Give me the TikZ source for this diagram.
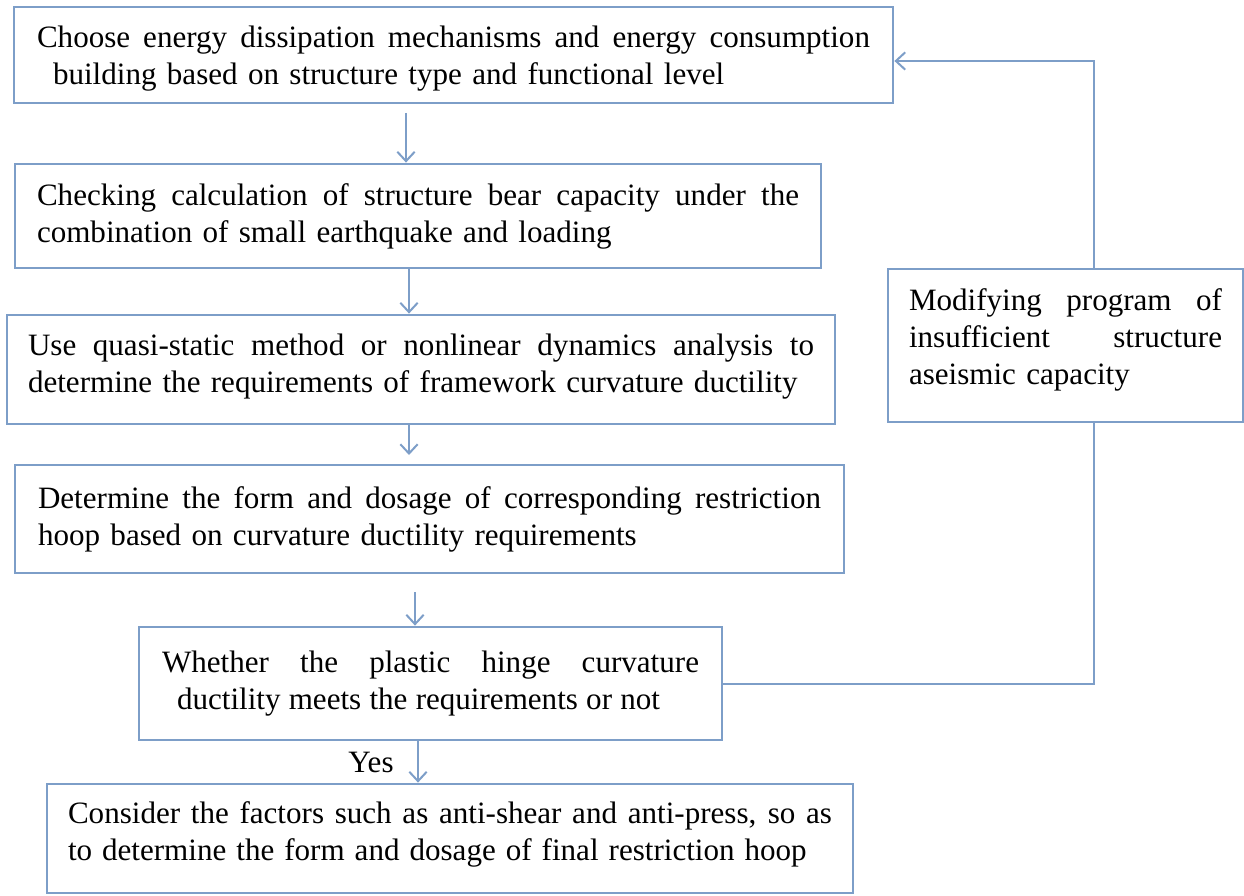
\documentclass[tikz,border=0pt]{standalone}
\usepackage{fontspec}
\setmainfont{Liberation Serif}
\usetikzlibrary{arrows.meta}
\definecolor{edge}{RGB}{125,158,200}
\newcommand{\jl}[2]{\makebox[#1][s]{\spaceskip=.25em plus 1fil minus .1em\relax\xspaceskip=\spaceskip #2}}
\tikzset{
  box/.style={draw=edge, line width=2.1pt, rectangle, inner sep=0pt, align=left,
    font=\fontsize{23.3pt}{27.75pt}\selectfont},
  link/.style={draw=edge, line width=1.5pt},
  arr/.style={link, -{Straight Barb[length=7pt,width=13pt,line width=1.5pt]}},
}
\begin{document}
\begin{tikzpicture}[x=0.75pt,y=-0.75pt]
\useasboundingbox (0,0) rectangle (1244,895);
\node[box, minimum width=659.25pt, minimum height=72pt, text width=624.75pt] (b1) at (453.5,55)
  {\rule{0pt}{21.5pt}\jl{624.75pt}{Choose energy dissipation mechanisms and energy consumption}\\
   \mbox{\hspace*{12pt}building based on structure type and functional level}};
\node[box, minimum width=604.5pt, minimum height=78pt, text width=571.5pt] (b2) at (418,216)
  {\jl{571.5pt}{Checking calculation of structure bear capacity under the}\\
   \mbox{combination of small earthquake and loading}};
\node[box, minimum width=621pt, minimum height=81.75pt, text width=589.5pt] (b3) at (421,369.5)
  {\jl{589.5pt}{Use quasi-static method or nonlinear dynamics analysis to}\\
   \mbox{determine the requirements of framework curvature ductility}\rule[-10pt]{0pt}{0pt}};
\node[box, minimum width=621.75pt, minimum height=81pt, text width=587.25pt] (b4) at (429.5,519)
  {\jl{587.25pt}{Determine the form and dosage of corresponding restriction}\\
   \mbox{hoop based on curvature ductility requirements}};
\node[box, minimum width=437.25pt, minimum height=84.75pt, text width=402.75pt] (b5) at (430.5,683.5)
  {\jl{402.75pt}{Whether the plastic hinge curvature}\\
   \hspace*{11.25pt}\jl{362.25pt}{ductility meets the requirements or not}};
\node[box, minimum width=604.5pt, minimum height=81.75pt, text width=573pt] (b6) at (450,838.5)
  {\jl{573pt}{Consider the factors such as anti-shear and anti-press, so as}\\
   \jl{554pt}{to determine the form and dosage of final restriction hoop}\rule[-10.5pt]{0pt}{0pt}};
\node[box, minimum width=266.25pt, minimum height=114.75pt, text width=234.75pt] (rb) at (1065.5,345.5)
  {\jl{234.75pt}{Modifying program of}\\
   \jl{234.75pt}{insufficient structure}\\
   \mbox{aseismic capacity}\rule[-14pt]{0pt}{0pt}};
\node[font=\fontsize{23.3pt}{27.75pt}\selectfont, inner sep=0pt] (yes) at (371,762) {Yes};
% vertical arrows
\coordinate (a1) at (406,113);
\draw[arr] (a1) -- (a1 |- b2.north);
\coordinate (a2) at (409,0);
\draw[arr] (a2 |- b2.south) -- (a2 |- b3.north);
\coordinate (a3) at (409,455);
\draw[arr] (a3 |- b3.south) -- (a3);
\coordinate (a4) at (415,592);
\draw[arr] (a4) -- (a4 |- b5.north);
\coordinate (a5) at (418,0);
\draw[arr] (a5 |- b5.south) -- (a5 |- b6.north);
% feedback loop
\coordinate (fb) at (1094,61);
\draw[link] (b5.east) -| (fb |- rb.south);
\draw[arr] (fb |- rb.north) -- (fb) -- (b1.east |- fb);
\end{tikzpicture}
\end{document}
